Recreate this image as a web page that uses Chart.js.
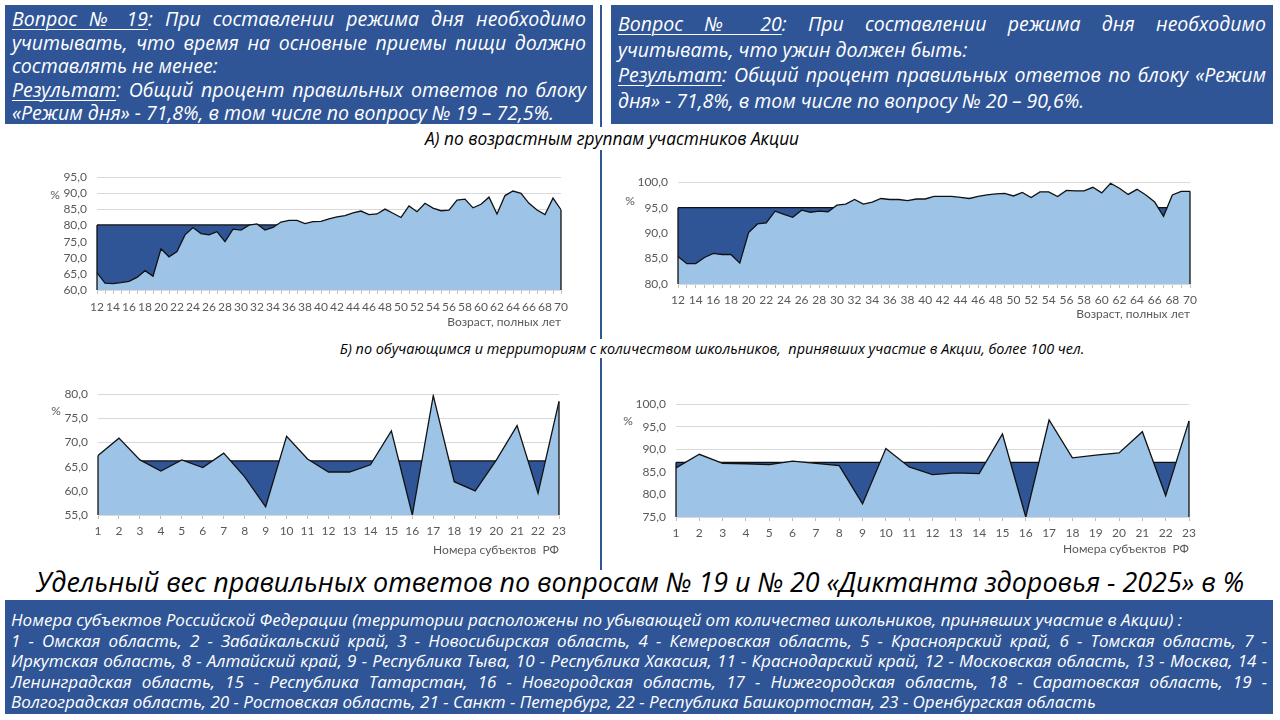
<!DOCTYPE html>
<html lang="ru">
<head>
<meta charset="utf-8">
<script src="https://cdn.jsdelivr.net/npm/chart.js@4.4.1/dist/chart.umd.min.js"></script>
<style>
  html, body { margin: 0; padding: 0; background: #fff; }
  body { width: 1280px; height: 720px; position: relative; overflow: hidden; font-family: "Open Sans", "Noto Sans", sans-serif; }
  .box { position: absolute; background: #2F5597; color: #fff; font-style: italic; box-sizing: border-box; }
  .j { text-align: justify; text-align-last: justify; }
  .l { text-align: left; white-space: nowrap; }
  u { text-decoration-thickness: 1px; text-underline-offset: 3px; }
  #hdrL { left: 5px; top: 5px; width: 588px; height: 119px; padding: 2px 7px 0 7px; font-size: 19.5px; line-height: 23.5px; }
  #hdrR { left: 611px; top: 5px; width: 662px; height: 119px; padding: 6px 7px 0 7px; font-size: 19.5px; line-height: 25.6px; }
  #divider { position: absolute; left: 600px; top: 5px; width: 1.5px; height: 565px; background: #2F5597; }
  .sub { position: absolute; white-space: nowrap; font-style: italic; color: #000; transform: translateX(-50%); background: #fff; padding: 0 3px; }
  #title { position: absolute; left: 0; top: 563px; width: 1280px; text-align: center; font-style: italic; font-size: 26.9px; color: #000; white-space: nowrap; }
  #foot { left: 5px; top: 600px; width: 1268px; height: 114px; padding: 10px 6px 0 6px; font-size: 17px; line-height: 20.6px; }
  .cv { position: absolute; }
</style>
</head>
<body>
<div id="divider"></div>

<div class="box" id="hdrL">
  <div class="j"><u>Вопрос № 19</u>: При составлении режима дня необходимо</div>
  <div class="j">учитывать, что время на основные приемы пищи должно</div>
  <div class="l">составлять не менее:</div>
  <div class="j"><u>Результат</u>: Общий процент правильных ответов по блоку</div>
  <div class="l">«Режим дня» - 71,8%, в том числе по вопросу № 19 – 72,5%.</div>
</div>

<div class="box" id="hdrR">
  <div class="j"><u>Вопрос № 20</u>: При составлении режима дня необходимо</div>
  <div class="l">учитывать, что ужин должен быть:</div>
  <div class="j"><u>Результат</u>: Общий процент правильных ответов по блоку «Режим</div>
  <div class="l">дня» - 71,8%, в том числе по вопросу № 20 – 90,6%.</div>
</div>

<div class="sub" style="left:612px;top:127px;font-size:17.3px">А) по возрастным группам участников Акции</div>
<div class="sub" style="left:712px;top:339px;font-size:14.4px">Б) по обучающимся и территориям с количеством школьников,&nbsp; принявших участие в Акции, более 100 чел.</div>

<canvas class="cv" id="c1" width="555" height="173" style="left:20px;top:160px"></canvas>
<canvas class="cv" id="c2" width="604" height="160" style="left:600px;top:165px"></canvas>
<canvas class="cv" id="c3" width="553" height="184" style="left:20px;top:377px"></canvas>
<canvas class="cv" id="c4" width="603" height="173" style="left:600px;top:387px"></canvas>

<div id="title">Удельный вес правильных ответов по вопросам № 19 и № 20 «Диктанта здоровья - 2025» в %</div>

<div class="box" id="foot">
  <div class="l">Номера субъектов Российской Федерации (территории расположены по убывающей от количества школьников, принявших участие в Акции) :</div>
  <div class="j">1 - Омская область, 2 - Забайкальский край, 3 - Новосибирская область, 4 - Кемеровская область, 5 - Красноярский край, 6 - Томская область, 7 -</div>
  <div class="j">Иркутская область, 8 - Алтайский край, 9 - Республика Тыва, 10 - Республика Хакасия, 11 - Краснодарский край, 12 - Московская область, 13 - Москва, 14 -</div>
  <div class="j">Ленинградская область, 15 - Республика Татарстан, 16 - Новгородская область, 17 - Нижегородская область, 18 - Саратовская область, 19 -</div>
  <div class="l">Волгоградская область, 20 - Ростовская область, 21 - Санкт - Петербург, 22 - Республика Башкортостан, 23 - Оренбургская область</div>
</div>

<script>
// categories
const ages = [12, 13, 14, 15, 16, 17, 18, 19, 20, 21, 22, 23, 24, 25, 26, 27, 28, 29, 30,
  31, 32, 33, 34, 35, 36, 37, 38, 39, 40, 41, 42, 43, 44, 45, 46, 47, 48, 49, 50,
  51, 52, 53, 54, 55, 56, 57, 58, 59, 60, 61, 62, 63, 64, 65, 66, 67, 68, 69, 70];
const regions = [1, 2, 3, 4, 5, 6, 7, 8, 9, 10, 11, 12, 13, 14, 15, 16, 17, 18, 19, 20, 21, 22, 23];

// question 19 by age
const q19Age = [65.4, 62.1, 62.0, 62.3, 62.7, 63.9, 66.0, 64.3, 72.8, 70.3, 71.9, 77.1, 79.4, 77.5,
  77.1, 78.1, 75.0, 78.9, 78.6, 80.1, 80.5, 78.6, 79.4, 81.1, 81.6, 81.6, 80.6, 81.2, 81.3,
  82.1, 82.7, 83.1, 83.9, 84.5, 83.4, 83.6, 85.1, 83.8, 82.5, 86.1, 84.3, 86.9, 85.4, 84.6,
  84.8, 87.9, 88.2, 85.5, 86.6, 88.8, 83.6, 89.3, 90.7, 90.0, 86.9, 84.8, 83.4, 88.5, 84.9];
// question 20 by age
const q20Age = [85.4, 84.0, 84.0, 85.2, 86.0, 85.8, 85.8, 84.1, 90.1, 91.8, 92.0, 94.3, 93.7, 93.1,
  94.5, 94.1, 94.3, 94.2, 95.5, 95.7, 96.6, 95.7, 96.1, 96.8, 96.6, 96.6, 96.4, 96.7, 96.7,
  97.2, 97.2, 97.2, 97.0, 96.8, 97.2, 97.5, 97.7, 97.8, 97.3, 98.0, 97.0, 98.1, 98.1, 97.2,
  98.4, 98.3, 98.3, 99.0, 97.9, 99.8, 98.8, 97.6, 98.6, 97.5, 96.1, 93.3, 97.5, 98.2, 98.2];
// by region
const q19Reg = [67.3, 70.9, 66.4, 64.1, 66.4, 64.8, 67.8, 62.9, 56.7, 71.3, 66.6, 63.9, 63.9, 65.4,
  72.4, 55.0, 79.7, 61.9, 60.0, 66.3, 73.5, 59.5, 78.5];
const q20Reg = [85.9, 88.9, 86.9, 86.8, 86.6, 87.4, 86.9, 86.4, 77.9, 90.2, 86.1, 84.4, 84.8, 84.6,
  93.4, 75.0, 96.5, 88.1, 88.7, 89.2, 93.9, 79.7, 96.3];

// reference levels (dark band)
const q19AgeRef = 80.2;
const q20AgeRef = 95.0;
const q19RegRef = 66.2;
const q20RegRef = 87.1;

const DARK = '#2F5597';
const LIGHT = '#9DC3E6';
const LINE = '#111';
const GREY = '#595959';

Chart.defaults.font.family = 'Lato, "Noto Sans", sans-serif';
Chart.defaults.font.size = 12;
Chart.defaults.color = GREY;

// vertical edges of the areas + "%" label
const edges = {
  id: 'edges',
  afterDatasetsDraw(chart, args, opts) {
    const { ctx, chartArea, scales } = chart;
    const ref = chart.data.datasets[0].data;
    const vals = chart.data.datasets[1].data;
    ctx.save();
    ctx.strokeStyle = LINE;
    ctx.lineWidth = 1.3;
    [0, vals.length - 1].forEach(i => {
      const x = scales.x.getPixelForValue(i);
      const top = scales.y.getPixelForValue(Math.max(vals[i], ref[i]));
      ctx.beginPath();
      ctx.moveTo(x, chartArea.bottom);
      ctx.lineTo(x, top);
      ctx.stroke();
    });
    ctx.fillStyle = GREY;
    ctx.font = '12px Lato';
    ctx.textAlign = 'center';
    ctx.textBaseline = 'middle';
    ctx.fillText('%', chartArea.left + opts.pctDx, chartArea.top + opts.pctDy);
    ctx.restore();
  }
};

function makeChart(id, labels, values, refLevel, cfg) {
  new Chart(document.getElementById(id), {
    type: 'line',
    data: {
      labels: labels,
      datasets: [
        {
          data: labels.map(() => refLevel),
          fill: 'start',
          backgroundColor: DARK,
          borderColor: LINE,
          borderWidth: 1.3,
          pointRadius: 0,
          tension: 0,
          order: 2
        },
        {
          data: values,
          fill: 'start',
          backgroundColor: LIGHT,
          borderColor: LINE,
          borderWidth: 1.3,
          pointRadius: 0,
          tension: 0,
          order: 1
        }
      ]
    },
    options: {
      responsive: false,
      animation: false,
      layout: { padding: { top: 14, right: 14, bottom: 0, left: 0 } },
      plugins: {
        legend: { display: false },
        tooltip: { enabled: false },
        edges: { pctDx: cfg.pctDx, pctDy: cfg.pctDy }
      },
      scales: {
        x: {
          type: 'category',
          offset: false,
          grid: { drawOnChartArea: false, drawTicks: true, tickLength: 4, color: '#BFBFBF' },
          border: { display: true, color: '#D9D9D9' },
          ticks: {
            autoSkip: false,
            maxRotation: 0,
            padding: cfg.xPad,
            color: GREY,
            callback: function (v, i) {
              const lab = this.getLabelForValue(v);
              return cfg.everyOther ? (i % 2 === 0 ? lab : '') : lab;
            }
          },
          title: { display: true, text: cfg.xTitle, align: 'end', color: GREY, font: { size: 12 } },
          afterFit: s => { s.height = cfg.xH; }
        },
        y: {
          min: cfg.min,
          max: cfg.max,
          grid: { color: '#D9D9D9', drawTicks: false },
          border: { display: false },
          ticks: {
            stepSize: 5,
            autoSkip: false,
            padding: 10,
            color: GREY,
            callback: v => v.toFixed(1).replace('.', ',')
          },
          afterFit: s => { s.width = cfg.yW; }
        }
      }
    },
    plugins: [edges]
  });
}

makeChart('c1', ages, q19Age, q19AgeRef,
  { min: 60, max: 95, yW: 77, xH: 43, xPad: 6, everyOther: true, xTitle: 'Возраст, полных лет', pctDx: -42, pctDy: 18 });
makeChart('c2', ages, q20Age, q20AgeRef,
  { min: 80, max: 100, yW: 78, xH: 41, xPad: 5, everyOther: true, xTitle: 'Возраст, полных лет', pctDx: -48, pctDy: 19 });
makeChart('c3', regions, q19Reg, q19RegRef,
  { min: 55, max: 80, yW: 78, xH: 46, xPad: 5, everyOther: false, xTitle: 'Номера субъектов  РФ', pctDx: -42, pctDy: 17 });
makeChart('c4', regions, q20Reg, q20RegRef,
  { min: 75, max: 100, yW: 76, xH: 43, xPad: 5, everyOther: false, xTitle: 'Номера субъектов  РФ', pctDx: -48, pctDy: 17 });
</script>
</body>
</html>
